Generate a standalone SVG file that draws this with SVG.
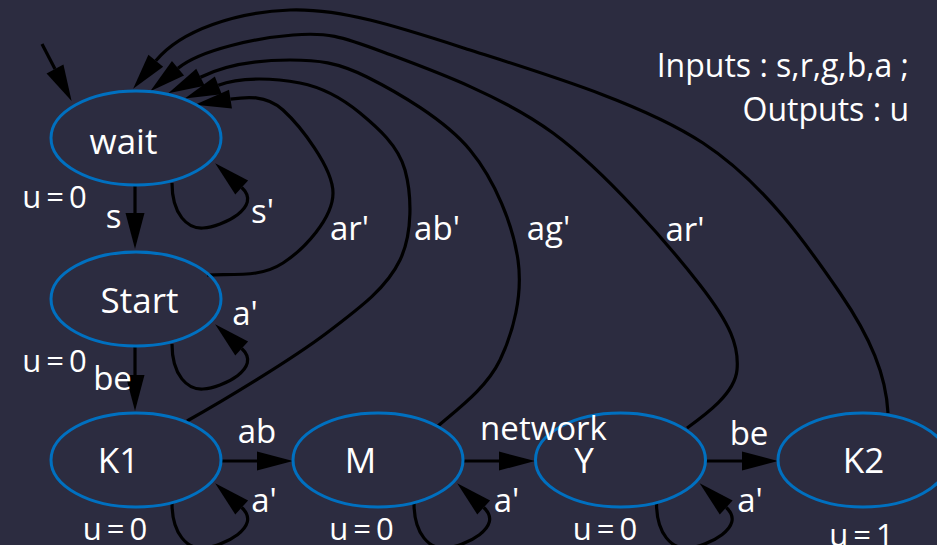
<svg xmlns="http://www.w3.org/2000/svg" width="937" height="545" viewBox="0 0 937 545">
<style>
text{font-family:"Open Sans","Noto Sans","DejaVu Sans",sans-serif;fill:#ffffff}
.st{fill:none;stroke:#0070c0;stroke-width:3}
.nl{font-size:35px;text-anchor:middle}
.el{font-size:33px;text-anchor:middle}
.ol{font-size:31px;text-anchor:middle;letter-spacing:5px}
.lg{font-size:32px;text-anchor:end}
.e{fill:none;stroke:#000000;stroke-width:3.2;marker-end:url(#ah)}
</style>
<defs>
<marker id="ah" markerUnits="userSpaceOnUse" markerWidth="36" markerHeight="19" refX="0" refY="9.5" orient="auto" overflow="visible">
<path d="M0,0 L36,9.5 L0,19 z" fill="#000000"/>
</marker>
</defs>
<rect width="937" height="545" fill="#2c2c40"/>
<g id="connectors">
<path class="e" d="M42,44 L55,69"/>
<path class="e" d="M135,185 L135,213"/>
<path class="e" d="M135,346 L135,375"/>
<path class="e" d="M221,461 L257,461"/>
<path class="e" d="M463,461 L499,461"/>
<path class="e" d="M706,461 L742,461"/>
<path class="e" d="M172,183 C172,215 188,229 203,228 C222,227 263,207 241.7,187.5"/>
<path class="e" transform="translate(0,161)" d="M172,183 C172,215 188,229 203,228 C222,227 263,207 241.7,187.5"/>
<path class="e" transform="translate(0,320)" d="M172,183 C172,215 188,229 203,228 C222,227 263,207 241.7,187.5"/>
<path class="e" transform="translate(242,320)" d="M172,183 C172,215 188,229 203,228 C222,227 263,207 241.7,187.5"/>
<path class="e" transform="translate(484.5,320)" d="M172,183 C172,215 188,229 203,228 C222,227 263,207 241.7,187.5"/>
<path class="e" d="M207,275 C240,274 262,276.7 283,263 C304,249.3 333,218.5 333,193 C333,167.5 300.1,125.6 283,110 C265.9,94.4 245.3,96.9 230.5,99.2"/>
<path class="e" d="M187,421 C223.5,400.5 291.2,359.8 326.7,333 C362.2,306.2 387,287.2 400,260 C413,232.8 411.7,194.5 405,170 C398.3,145.5 377.5,127.5 360,113 C342.5,98.5 323.6,87.6 300,83 C276.4,78.4 241.6,76.2 218.3,85.3"/>
<path class="e" d="M438,426 C459,408 486.7,387.7 500,360 C513.3,332.3 523,295 518,260 C513,225 495.2,180.5 470,150 C444.8,119.5 397,92 367,77 C337,62 317.75,60 290,60 C262.25,60 227.3,63.8 200.5,77.2"/>
<path class="e" d="M687,428 C705,415 734.8,393.8 737,370 C739.2,346.2 730.7,324.5 700,285 C669.3,245.5 605.8,171.8 553,133 C500.2,94.2 426.3,68.3 383,52 C339.7,35.7 327.2,32.3 293,35 C258.8,37.7 201.1,49.2 178,68.3"/>
<path class="e" d="M888,413 C886,375 870.8,338 840,293 C809.2,248 764.7,183.5 703,143 C641.3,102.5 538.8,72.2 470,50 C401.2,27.8 342.4,8.2 290,10 C237.6,11.8 181,29.7 155.8,60.8"/>
</g>
<g id="wait"><ellipse class="st" cx="136" cy="138" rx="85" ry="47"/><text class="nl" x="123.5" y="154">wait</text><text class="ol" x="57" y="208">u=0</text></g>
<g id="Start"><ellipse class="st" cx="136" cy="299" rx="85" ry="47"/><text class="nl" x="139.5" y="313">Start</text><text class="ol" x="57" y="372">u=0</text></g>
<g id="K1"><ellipse class="st" cx="136" cy="460" rx="85" ry="47"/><text class="nl" x="118.5" y="473">K1</text><text class="ol" x="117.5" y="540">u=0</text></g>
<g id="M"><ellipse class="st" cx="378" cy="460" rx="85" ry="47"/><text class="nl" x="360.5" y="473">M</text><text class="ol" x="364" y="540">u=0</text></g>
<g id="Y"><ellipse class="st" cx="620.5" cy="460" rx="85" ry="47"/><text class="nl" x="584" y="473">Y</text><text class="ol" x="607.5" y="540">u=0</text></g>
<g id="K2"><ellipse class="st" cx="863" cy="460" rx="85" ry="47"/><text class="nl" x="863.5" y="473">K2</text><text class="ol" x="864" y="546">u=1</text></g>
<g id="labels">
<text class="el" x="113.5" y="228">s</text>
<text class="el" x="262.5" y="223">s'</text>
<text class="el" x="349.5" y="240">ar'</text>
<text class="el" x="437" y="240">ab'</text>
<text class="el" x="548.5" y="240">ag'</text>
<text class="el" x="685" y="241">ar'</text>
<text class="el" x="245" y="325">a'</text>
<text class="el" x="112.5" y="390">be</text>
<text class="el" x="257" y="443">ab</text>
<text class="el" x="264" y="512">a'</text>
<text class="el" x="543.5" y="440">network</text>
<text class="el" x="506.5" y="512">a'</text>
<text class="el" x="749" y="445">be</text>
<text class="el" x="750" y="512">a'</text>
</g>
<g id="legend">
<text class="lg" x="909" y="77">Inputs : s,r,g,b,a ;</text>
<text class="lg" x="909" y="121">Outputs : u</text>
</g>
</svg>
